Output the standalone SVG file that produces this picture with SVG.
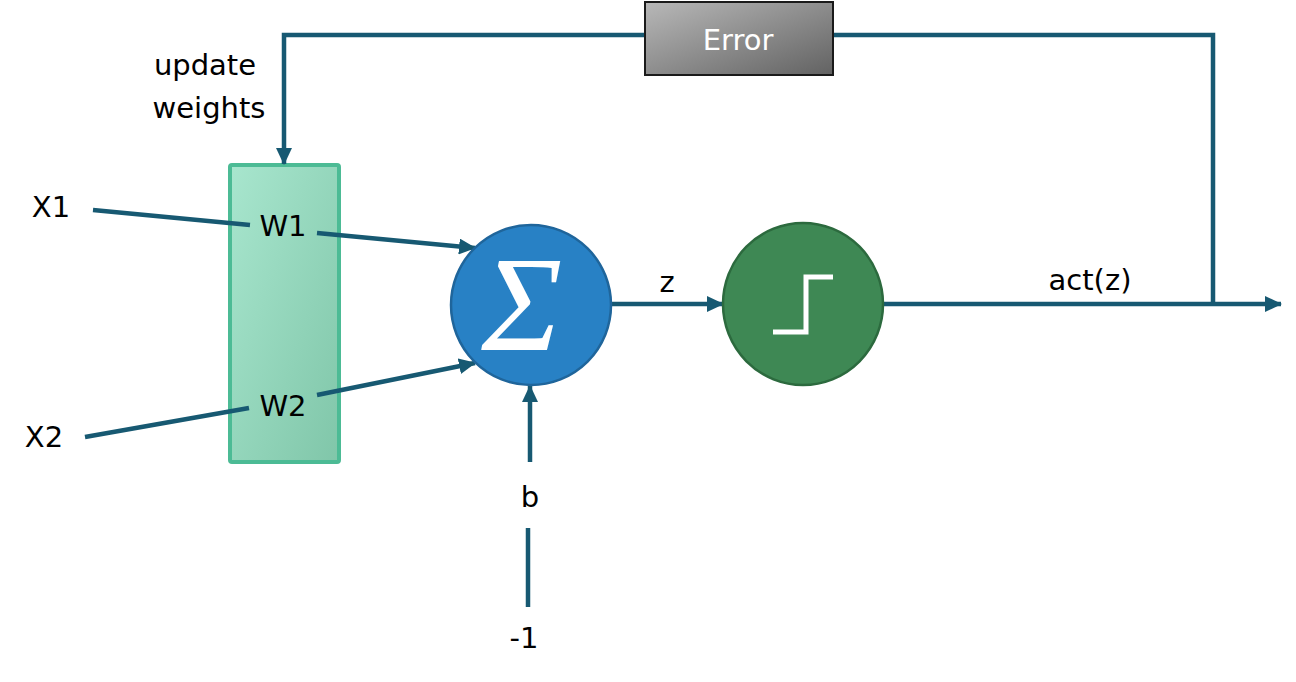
<svg xmlns="http://www.w3.org/2000/svg" width="1296" height="682" viewBox="0 0 1296 682">
<defs>
<style>
.ln{stroke:#175972;stroke-width:4.5;fill:none}
.t{font-family:"DejaVu Sans","Liberation Sans",sans-serif;font-size:29px;fill:#000}
</style>
<marker id="ah" markerUnits="userSpaceOnUse" markerWidth="17" markerHeight="16" refX="16" refY="8" orient="auto">
<path d="M0,0 L17,8 L0,16 Z" fill="#175972"/>
</marker>
<linearGradient id="gw" x1="0" y1="0" x2="1" y2="1">
<stop offset="0" stop-color="#a8e6ce"/>
<stop offset="1" stop-color="#80c6a9"/>
</linearGradient>
<linearGradient id="ge" x1="0" y1="0" x2="1" y2="1">
<stop offset="0" stop-color="#b8b8b8"/>
<stop offset="1" stop-color="#626262"/>
</linearGradient>
</defs>
<rect width="1296" height="682" fill="#fff"/>
<g id="weights">
<rect x="230" y="165" width="109" height="297" rx="2" fill="url(#gw)" stroke="#4cbb95" stroke-width="4"/>
</g>
<g id="connectors">
<polyline class="ln" points="645,35 284,35 284,164" marker-end="url(#ah)"/>
<polyline class="ln" points="833,35 1213,35 1213,304"/>
<line class="ln" x1="93" y1="210" x2="250" y2="225"/>
<line class="ln" x1="317" y1="233" x2="475" y2="248" marker-end="url(#ah)"/>
<line class="ln" x1="85" y1="437" x2="249" y2="408"/>
<line class="ln" x1="317" y1="395" x2="475" y2="363" marker-end="url(#ah)"/>
<line class="ln" x1="530" y1="462" x2="530" y2="386" marker-end="url(#ah)"/>
<line class="ln" x1="528" y1="528" x2="528" y2="607"/>
<line class="ln" x1="611" y1="304" x2="723" y2="304" marker-end="url(#ah)"/>
<line class="ln" x1="883" y1="304" x2="1281" y2="304" marker-end="url(#ah)"/>
</g>
<g id="sum">
<circle cx="531" cy="305" r="80" fill="#2881c5" stroke="#1f659b" stroke-width="2.5"/>
<text x="522" y="350" text-anchor="middle" font-family="Liberation Serif,serif" font-style="italic" font-size="136" fill="#fff">Σ</text>
</g>
<g id="activation">
<ellipse cx="803" cy="304" rx="80" ry="81" fill="#3e8854" stroke="#2c6a3e" stroke-width="2.5"/>
<polyline points="773,332 806,332 806,277 833,277" fill="none" stroke="#fff" stroke-width="5"/>
</g>
<g id="error">
<rect x="645" y="2" width="188" height="73" fill="url(#ge)" stroke="#1a1a1a" stroke-width="2"/>
<text x="738" y="50" text-anchor="middle" font-family="DejaVu Sans,sans-serif" font-size="29" fill="#fff">Error</text>
</g>
<g id="labels">
<text class="t" x="205" y="75" text-anchor="middle">update</text>
<text class="t" x="209" y="118" text-anchor="middle">weights</text>
<text class="t" x="51" y="217" text-anchor="middle">X1</text>
<text class="t" x="44" y="447" text-anchor="middle">X2</text>
<text class="t" x="283" y="236" text-anchor="middle">W1</text>
<text class="t" x="283" y="416" text-anchor="middle">W2</text>
<text class="t" x="530" y="507" text-anchor="middle">b</text>
<text class="t" x="524" y="648" text-anchor="middle">-1</text>
<text class="t" x="667" y="292" text-anchor="middle">z</text>
<text class="t" x="1090" y="290" text-anchor="middle">act(z)</text>
</g>
</svg>
